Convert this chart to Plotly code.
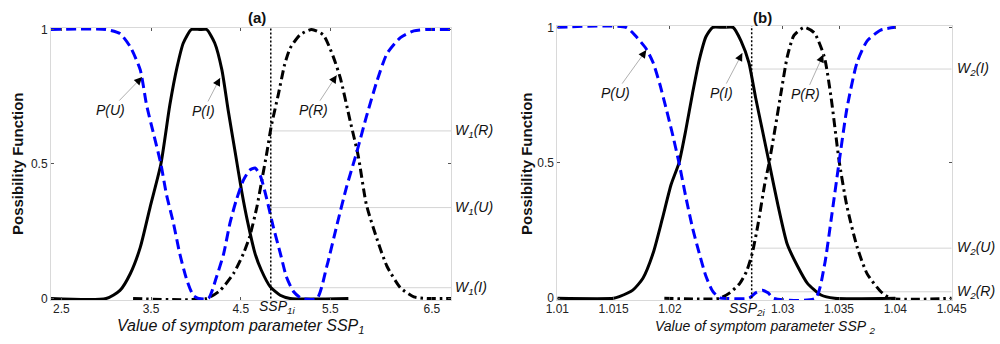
import plotly.graph_objects as go

# ---------------- Panel (a) data ----------------
pu1_x = [2.385, 3.00, 3.154, 3.27, 3.38, 3.45, 3.53, 3.61, 3.67, 3.75, 3.82, 3.90, 3.97, 4.03, 4.14,
         4.23, 4.31, 4.38, 4.45, 4.53, 4.60, 4.66, 4.72, 4.79, 4.86, 4.94, 5.01, 5.09, 5.18, 5.35,
         5.46, 5.57, 5.68, 5.79, 5.90, 6.02, 6.13, 6.28, 6.43, 6.57, 6.844]
pu1_y = [1, 1, 0.985, 0.935, 0.85, 0.72, 0.61, 0.50, 0.39, 0.28, 0.167, 0.068, 0.012, 0, 0,
         0.08, 0.167, 0.28, 0.365, 0.44, 0.477, 0.485, 0.455, 0.37, 0.27, 0.17, 0.08, 0.025, 0, 0,
         0.12, 0.27, 0.415, 0.54, 0.675, 0.81, 0.91, 0.97, 0.995, 1, 1]

pi1_x = [2.385, 3.00, 3.154, 3.27, 3.38, 3.49, 3.61, 3.71, 3.79, 3.86, 3.95, 4.04, 4.12, 4.21, 4.29,
         4.36, 4.44, 4.51, 4.58, 4.66, 4.73, 4.83, 4.94, 5.05, 5.70]
pi1_y = [0, 0, 0.03, 0.093, 0.19, 0.34, 0.50, 0.72, 0.86, 0.95, 1, 1, 1, 0.95, 0.85,
         0.70, 0.54, 0.40, 0.28, 0.167, 0.105, 0.043, 0.012, 0, 0]

pr1_x = [3.30, 4.12, 4.27, 4.42, 4.53, 4.60, 4.68, 4.73, 4.79, 4.84, 4.92, 4.99, 5.05, 5.16, 5.29,
         5.42, 5.53, 5.61, 5.72, 5.81, 5.90, 6.02, 6.13, 6.28, 6.43, 6.57, 6.844]
pr1_y = [0, 0, 0.03, 0.093, 0.167, 0.23, 0.34, 0.43, 0.54, 0.64, 0.76, 0.87, 0.93, 0.98, 1,
         0.98, 0.90, 0.82, 0.66, 0.53, 0.35, 0.22, 0.12, 0.04, 0.006, 0, 0]

ssp1 = 4.835
w1_names = ["W<sub>1</sub>(R)", "W<sub>1</sub>(U)", "W<sub>1</sub>(I)"]
w1_vals = [0.623, 0.338, 0.04]
x1_range = [2.385, 6.844]
x1_tickvals = [2.5, 3.5, 4.5, 5.5, 6.63]
x1_ticktext = ["2.5", "3.5", "4.5", "5.5", "6.5"]

# ---------------- Panel (b) data ----------------
pu2_x = [1.01, 1.0161, 1.0170, 1.0179, 1.0185, 1.0191, 1.0196, 1.0202, 1.0208, 1.0214, 1.0220,
         1.0226, 1.0232, 1.0238, 1.0244, 1.0247, 1.0270, 1.0276, 1.0282, 1.0287, 1.0292, 1.0329,
         1.0337, 1.0343, 1.0350, 1.0357, 1.0366, 1.0375, 1.0387, 1.0400]
pu2_y = [1, 1, 0.966, 0.92, 0.87, 0.79, 0.71, 0.61, 0.50, 0.375, 0.26,
         0.166, 0.08, 0.025, 0.002, 0, 0, 0.02, 0.03, 0.02, 0, 0,
         0.12, 0.29, 0.50, 0.70, 0.87, 0.95, 0.99, 1]

pi2_x = [1.01, 1.0150, 1.0155, 1.0167, 1.0176, 1.0185, 1.0193, 1.0201, 1.0208, 1.0214, 1.0220,
         1.0226, 1.0232, 1.0238, 1.0247, 1.0256, 1.0263, 1.0270, 1.0276, 1.0282, 1.0288, 1.0296,
         1.0304, 1.0313, 1.0322, 1.0334, 1.0346, 1.0400]
pi2_y = [0, 0, 0.006, 0.03, 0.074, 0.166, 0.29, 0.42, 0.50, 0.62, 0.756,
         0.88, 0.966, 1, 1, 1, 0.95, 0.87, 0.74, 0.62, 0.50, 0.34,
         0.20, 0.12, 0.055, 0.012, 0, 0]

pr2_x = [1.0195, 1.0244, 1.0253, 1.0262, 1.0268, 1.0273, 1.0278, 1.0284, 1.0288, 1.0293, 1.0299,
         1.0304, 1.0310, 1.0319, 1.0328, 1.0337, 1.0343, 1.0350, 1.0357, 1.0366, 1.0375, 1.0387,
         1.0396, 1.045]
pr2_y = [0, 0, 0.02, 0.055, 0.10, 0.166, 0.27, 0.42, 0.50, 0.62, 0.77,
         0.89, 0.97, 1, 0.98, 0.89, 0.74, 0.51, 0.34, 0.19, 0.09, 0.025,
         0, 0]

ssp2 = 1.02725
w2_names = ["W<sub>2</sub>(I)", "W<sub>2</sub>(U)", "W<sub>2</sub>(R)"]
w2_vals = [0.846, 0.185, 0.024]
x2_range = [1.01, 1.045]
x2_tickvals = [1.01, 1.015, 1.02, 1.025, 1.03, 1.035, 1.04, 1.045]
x2_ticktext = ["1.01", "1.015", "1.02", " ", "1.03", "1.035", "1.04", "1.045"]

y_tickvals = [0, 0.5, 1]
y_ticktext = ["0", "0.5", "1"]

FONT = "Liberation Sans, Arial, sans-serif"
BLUE = "#0000ff"
GRID = "#d4d4d4"

fig = go.Figure()


def add_panel(xa, ya, pu, pi, pr, ssp, wvals, xmax):
    for wv in wvals:
        fig.add_trace(go.Scatter(x=[ssp, xmax], y=[wv, wv], mode="lines",
                                 line=dict(color=GRID, width=1), xaxis=xa, yaxis=ya,
                                 showlegend=False, hoverinfo="skip"))
    fig.add_trace(go.Scatter(x=pr[0], y=pr[1], mode="lines",
                             line=dict(color="black", width=3, dash="9px,4px,2.5px,4px",
                                       shape="spline", smoothing=0.6),
                             xaxis=xa, yaxis=ya, showlegend=False))
    fig.add_trace(go.Scatter(x=pi[0], y=pi[1], mode="lines",
                             line=dict(color="black", width=3, shape="spline", smoothing=0.6),
                             xaxis=xa, yaxis=ya, showlegend=False))
    fig.add_trace(go.Scatter(x=pu[0], y=pu[1], mode="lines",
                             line=dict(color=BLUE, width=3, dash="10px,5px",
                                       shape="spline", smoothing=0.6),
                             xaxis=xa, yaxis=ya, showlegend=False))
    fig.add_trace(go.Scatter(x=[ssp, ssp], y=[0, 1.01], mode="lines",
                             line=dict(color="black", width=1.5, dash="2px,2px"),
                             xaxis=xa, yaxis=ya, showlegend=False, cliponaxis=False))


add_panel("x", "y", (pu1_x, pu1_y), (pi1_x, pi1_y), (pr1_x, pr1_y), ssp1, w1_vals, x1_range[1])
add_panel("x2", "y2", (pu2_x, pu2_y), (pi2_x, pi2_y), (pr2_x, pr2_y), ssp2, w2_vals, x2_range[1])

axis_common = dict(showline=True, linecolor="#d9d9d9", linewidth=1, mirror="ticks",
                   ticks="inside", ticklen=3, tickcolor="#555", showgrid=False,
                   zeroline=False, automargin=False,
                   tickfont=dict(family=FONT, size=12, color="#222"))

fig.update_layout(
    template="none",
    width=1000, height=344,
    margin=dict(l=0, r=0, t=0, b=0, pad=0),
    paper_bgcolor="white", plot_bgcolor="white",
    xaxis=dict(domain=[0.051, 0.451], range=x1_range, tickvals=x1_tickvals,
               ticktext=x1_ticktext, anchor="y", ticklabelstandoff=-3, **axis_common),
    yaxis=dict(domain=[0.1276, 0.9189], range=[-0.006, 1.006], tickvals=y_tickvals,
               ticktext=y_ticktext, anchor="x", **axis_common),
    xaxis2=dict(domain=[0.5573, 0.9517], range=x2_range, tickvals=x2_tickvals,
                ticktext=x2_ticktext, anchor="y2", ticklabelstandoff=-2, **axis_common),
    yaxis2=dict(domain=[0.1282, 0.9253], range=[-0.006, 1.006], tickvals=y_tickvals,
                ticktext=y_ticktext, anchor="x2", **axis_common),
)

ann = []


def txt(x, y, text, size=14, xref="paper", yref="paper", xanchor="center", **kw):
    d = dict(x=x, y=y, text=text, xref=xref, yref=yref, showarrow=False,
             xanchor=xanchor, yanchor="middle",
             font=dict(family=FONT, size=size, color="#111"))
    d.update(kw)
    ann.append(d)


def py(p):
    return 1 - p / 344.0


# Titles
txt(0.257, py(18), "<b>(a)</b>", size=15)
txt(0.762, py(18), "<b>(b)</b>", size=15)
# y titles
txt(0.017, py(164), "<b>Possibility Function</b>", size=15, textangle=-90)
txt(0.526, py(164), "<b>Possibility Function</b>", size=15, textangle=-90)
# x titles
txt(0.241, py(326), "<i>Value of symptom parameter SSP<sub>1</sub></i>", size=16)
txt(0.765, py(327), "<i>Value of symptom parameter SSP <sub>2</sub></i>", size=14)
# SSP labels under axis
txt(ssp1 + 0.07, py(307), "<i>SSP<sub>1i</sub></i>", size=14, xref="x")
txt(ssp2 - 0.0004, py(309), "<i>SSP<sub>2i</sub></i>", size=14, xref="x2")

# W labels
for name, v in zip(w1_names, w1_vals):
    txt(0.453, v, "<i>" + name + "</i>", size=14, yref="y", xanchor="left")
for name, v in zip(w2_names, w2_vals):
    txt(0.955, v, "<i>" + name + "</i>", size=14, yref="y2", xanchor="left")

# P labels with arrows (gray shaft, black head)
arrows = [
    ("x", "y", 3.40, 0.823, -32, 33, "P(U)"),
    ("x", "y", 4.27, 0.82, -17, 33, "P(I)"),
    ("x", "y", 5.57, 0.83, -23, 35, "P(R)"),
    ("x2", "y2", 1.0179, 0.916, -31, 43, "P(U)"),
    ("x2", "y2", 1.02642, 0.905, -21, 40, "P(I)"),
    ("x2", "y2", 1.03361, 0.90, -18, 40, "P(R)"),
]
for xr, yr, x, y, ax, ay, label in arrows:
    ann.append(dict(x=x, y=y, xref=xr, yref=yr, ax=ax, ay=ay, text="<i>" + label + "</i>",
                    showarrow=True, arrowhead=0, arrowcolor="#b0b0b0", arrowwidth=1,
                    font=dict(family=FONT, size=14, color="#111")))
    n = (ax ** 2 + ay ** 2) ** 0.5
    ann.append(dict(x=x, y=y, xref=xr, yref=yr, ax=ax / n * 9, ay=ay / n * 9, text="",
                    showarrow=True, arrowhead=2, arrowcolor="black", arrowwidth=1.3,
                    arrowsize=1.2, standoff=0, startstandoff=0))

fig.update_layout(annotations=ann)
fig.write_html("out.html", config={"displayModeBar": False},
               post_script="document.body.style.margin='0';document.body.style.overflow='hidden';")
